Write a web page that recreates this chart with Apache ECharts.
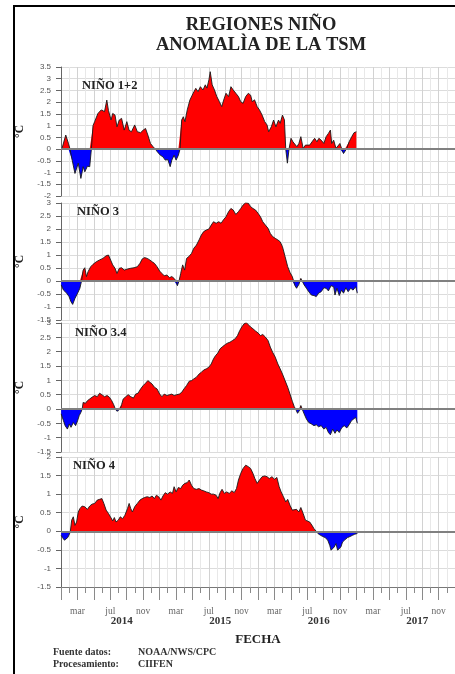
<!DOCTYPE html>
<html><head><meta charset="utf-8">
<script src="https://cdn.jsdelivr.net/npm/echarts@6/dist/echarts.min.js"></script>
<style>html,body{margin:0;padding:0;background:#fff}#c{width:455px;height:674px}</style>
</head><body><div id="c"></div>
<script>
// x = months since 1 Jan 2014, y = SST anomaly (°C)
const nino12 = [[0.1,0],[0.58,0.6],[0.9,0.25],[1.1,0],[1.38,-0.5],[1.7,-1.04],[2.1,-0.6],[2.42,-1.25],[2.7,-0.75],[2.9,-0.97],[3.22,-0.73],[3.5,-0.75],[3.7,0],[3.9,1.0],[4.1,1.17],[4.5,1.52],[4.9,1.67],[5.3,1.6],[5.58,2.09],[5.78,1.65],[6.1,1.24],[6.3,1.52],[6.58,1.45],[6.82,0.95],[7.1,1.24],[7.38,1.31],[7.7,0.81],[8.02,1.17],[8.3,0.8],[8.58,0.74],[8.98,1.03],[9.3,0.74],[9.7,0.7],[10.02,0.81],[10.3,0.88],[10.58,0.6],[10.9,0.24],[11.22,0.1],[11.5,0],[11.7,-0.1],[12.1,-0.26],[12.42,-0.33],[12.7,-0.47],[13.02,-0.45],[13.3,-0.75],[13.5,-0.47],[13.78,-0.26],[14.02,-0.47],[14.3,-0.26],[14.5,0],[14.7,1.24],[14.9,1.38],[15.1,1.17],[15.38,1.67],[15.7,2.09],[16.1,2.38],[16.42,2.59],[16.7,2.45],[16.98,2.66],[17.3,2.52],[17.58,2.74],[17.78,2.6],[18.02,2.95],[18.18,3.3],[18.42,2.74],[18.7,2.52],[18.98,2.24],[19.3,2.02],[19.58,1.81],[19.82,2.09],[20.1,2.38],[20.42,2.24],[20.7,2.66],[20.98,2.52],[21.3,2.38],[21.62,2.24],[21.9,2.02],[22.18,1.95],[22.5,2.24],[22.82,2.38],[23.1,2.3],[23.3,2.02],[23.58,2.1],[23.9,1.81],[24.18,1.67],[24.5,1.45],[24.82,1.17],[25.1,1.03],[25.3,0.74],[25.62,0.95],[25.9,1.24],[26.18,0.95],[26.5,1.24],[26.7,1.1],[26.98,1.45],[27.22,1.24],[27.38,0],[27.58,-0.6],[27.78,0],[28.02,0.46],[28.26,0.31],[28.5,0.38],[28.74,0.1],[28.98,0.24],[29.22,0.53],[29.5,0.03],[29.78,0.17],[30.02,0.24],[30.3,0.17],[30.58,0.31],[30.9,0.46],[31.18,0.31],[31.42,0.46],[31.7,0.38],[32.02,0.24],[32.3,0.53],[32.58,0.67],[32.82,0.81],[32.98,0.24],[33.22,0.38],[33.5,0.03],[33.7,-0.04],[33.98,0.24],[34.18,0.03],[34.42,-0.19],[34.58,-0.26],[34.82,0.03],[35.1,0.31],[35.42,0.53],[35.7,0.7],[35.98,0.74]];
const nino3 = [[0.02,-0.15],[0.3,-0.35],[0.7,-0.47],[0.98,-0.6],[1.22,-0.8],[1.42,-0.9],[1.7,-0.67],[2.02,-0.47],[2.3,-0.28],[2.5,0],[2.7,0.42],[2.9,0.51],[3.1,0.17],[3.3,0.36],[3.62,0.55],[3.9,0.64],[4.3,0.74],[4.7,0.81],[5.1,0.87],[5.5,0.97],[5.78,1.0],[6.02,0.94],[6.3,0.62],[6.58,0.49],[6.82,0.29],[7.1,0.49],[7.38,0.51],[7.7,0.42],[8.1,0.46],[8.5,0.49],[8.9,0.51],[9.3,0.55],[9.62,0.68],[9.9,0.85],[10.18,0.9],[10.5,0.87],[10.82,0.81],[11.1,0.74],[11.38,0.68],[11.7,0.55],[12.02,0.38],[12.3,0.29],[12.58,0.2],[12.9,0.23],[13.22,0.13],[13.5,0.17],[13.78,0.1],[14.02,0],[14.18,-0.18],[14.38,0],[14.58,0.29],[14.82,0.62],[15.06,0.42],[15.3,0.87],[15.58,0.94],[15.9,1.06],[16.18,1.26],[16.5,1.38],[16.82,1.58],[17.1,1.77],[17.38,1.9],[17.7,1.96],[18.02,2.0],[18.3,2.15],[18.58,2.28],[18.9,2.22],[19.22,2.28],[19.5,2.22],[19.78,2.35],[20.1,2.47],[20.42,2.67],[20.7,2.79],[20.98,2.73],[21.3,2.56],[21.62,2.67],[21.9,2.79],[22.18,2.92],[22.5,3.01],[22.82,2.99],[23.1,2.86],[23.38,2.79],[23.7,2.73],[24.02,2.6],[24.3,2.47],[24.58,2.28],[24.9,2.15],[25.22,2.03],[25.5,1.83],[25.78,1.71],[26.1,1.64],[26.42,1.58],[26.7,1.51],[26.98,1.32],[27.3,0.94],[27.62,0.55],[27.9,0.33],[28.18,0.17],[28.34,0],[28.5,-0.18],[28.7,-0.28],[28.98,-0.13],[29.22,0.1],[29.38,0],[29.62,-0.15],[29.9,-0.28],[30.18,-0.41],[30.5,-0.54],[30.82,-0.56],[31.1,-0.6],[31.38,-0.47],[31.7,-0.41],[32.02,-0.26],[32.3,-0.28],[32.58,-0.38],[32.9,-0.18],[33.22,-0.22],[33.38,-0.54],[33.62,-0.28],[33.9,-0.56],[34.18,-0.35],[34.42,-0.47],[34.7,-0.26],[34.98,-0.41],[35.3,-0.28],[35.58,-0.35],[35.9,-0.22],[36.1,-0.47]];
const nino34 = [[0.02,-0.17],[0.3,-0.41],[0.5,-0.58],[0.78,-0.7],[1.02,-0.52],[1.22,-0.64],[1.5,-0.47],[1.78,-0.58],[2.02,-0.41],[2.22,-0.23],[2.42,-0.12],[2.58,0],[2.7,0.23],[2.98,0.2],[3.22,0.29],[3.5,0.35],[3.78,0.41],[4.1,0.47],[4.42,0.43],[4.7,0.55],[4.98,0.5],[5.3,0.43],[5.62,0.47],[5.9,0.41],[6.18,0.29],[6.42,0.15],[6.62,0],[6.82,-0.08],[7.02,-0.04],[7.22,0],[7.38,0.15],[7.58,0.35],[7.9,0.43],[8.18,0.5],[8.5,0.43],[8.82,0.38],[9.1,0.52],[9.38,0.55],[9.7,0.7],[10.02,0.82],[10.3,0.9],[10.58,0.99],[10.82,0.93],[11.1,0.87],[11.38,0.76],[11.7,0.7],[12.02,0.52],[12.3,0.43],[12.58,0.52],[12.9,0.47],[13.22,0.5],[13.5,0.52],[13.78,0.47],[14.1,0.5],[14.42,0.52],[14.7,0.58],[14.98,0.7],[15.3,0.82],[15.62,0.97],[15.9,0.99],[16.18,1.05],[16.5,1.11],[16.82,1.22],[17.1,1.28],[17.38,1.36],[17.7,1.4],[18.02,1.46],[18.3,1.57],[18.58,1.75],[18.82,1.86],[19.1,1.95],[19.38,2.1],[19.7,2.18],[20.02,2.25],[20.3,2.3],[20.58,2.33],[20.9,2.39],[21.22,2.45],[21.5,2.56],[21.78,2.74],[22.02,2.86],[22.3,2.97],[22.58,3.01],[22.82,2.95],[23.1,2.86],[23.38,2.8],[23.7,2.72],[24.02,2.65],[24.3,2.56],[24.58,2.6],[24.9,2.51],[25.22,2.39],[25.5,2.16],[25.78,1.98],[26.1,1.81],[26.42,1.57],[26.7,1.4],[26.98,1.22],[27.3,0.99],[27.62,0.76],[27.9,0.52],[28.18,0.27],[28.42,0.08],[28.58,0],[28.82,-0.15],[29.02,-0.06],[29.22,0.12],[29.38,0],[29.62,-0.17],[29.9,-0.35],[30.18,-0.47],[30.5,-0.52],[30.82,-0.58],[31.1,-0.55],[31.38,-0.62],[31.7,-0.58],[32.02,-0.7],[32.3,-0.64],[32.58,-0.82],[32.82,-0.9],[33.1,-0.7],[33.38,-0.85],[33.62,-0.73],[33.9,-0.82],[34.18,-0.66],[34.5,-0.58],[34.82,-0.66],[35.1,-0.55],[35.38,-0.41],[35.62,-0.47],[35.9,-0.29],[36.1,-0.5]];
const nino4 = [[0.02,-0.11],[0.18,-0.17],[0.42,-0.24],[0.58,-0.29],[0.82,-0.17],[1.02,-0.08],[1.14,0],[1.3,0.3],[1.5,0.39],[1.7,0.16],[1.9,0.25],[2.1,0.52],[2.3,0.61],[2.58,0.68],[2.9,0.66],[3.22,0.59],[3.5,0.68],[3.78,0.73],[4.1,0.75],[4.42,0.84],[4.7,0.86],[4.98,0.88],[5.22,0.75],[5.5,0.57],[5.78,0.48],[6.02,0.39],[6.3,0.28],[6.5,0.37],[6.7,0.25],[6.98,0.3],[7.22,0.39],[7.5,0.34],[7.78,0.43],[8.1,0.61],[8.3,0.75],[8.5,0.61],[8.7,0.52],[8.98,0.66],[9.3,0.75],[9.62,0.84],[9.9,0.88],[10.18,0.91],[10.5,0.93],[10.82,0.91],[11.1,0.95],[11.38,0.88],[11.62,0.97],[11.9,0.93],[12.18,0.84],[12.42,0.95],[12.7,1.04],[12.98,1.0],[13.3,1.06],[13.58,1.02],[13.78,1.2],[14.02,1.06],[14.3,1.18],[14.58,1.15],[14.82,1.24],[15.1,1.29],[15.38,1.31],[15.62,1.38],[15.9,1.24],[16.18,1.15],[16.5,1.13],[16.82,1.15],[17.1,1.11],[17.38,1.09],[17.7,1.06],[18.02,1.04],[18.3,1.0],[18.58,1.0],[18.9,0.97],[19.14,0.88],[19.38,1.04],[19.62,1.13],[19.9,1.02],[20.18,1.06],[20.5,1.02],[20.82,1.09],[21.1,1.04],[21.38,1.15],[21.62,1.38],[21.9,1.56],[22.18,1.69],[22.5,1.78],[22.82,1.74],[23.1,1.69],[23.38,1.56],[23.62,1.42],[23.9,1.29],[24.18,1.38],[24.5,1.47],[24.82,1.49],[25.1,1.47],[25.38,1.42],[25.7,1.47],[26.02,1.4],[26.3,1.45],[26.58,1.2],[26.82,1.06],[27.1,0.93],[27.38,0.79],[27.62,0.86],[27.9,0.7],[28.18,0.57],[28.42,0.52],[28.7,0.59],[28.98,0.52],[29.22,0.64],[29.5,0.48],[29.78,0.3],[30.02,0.28],[30.3,0.25],[30.58,0.16],[30.82,0.07],[31.1,0],[31.3,-0.06],[31.62,-0.11],[31.9,-0.14],[32.18,-0.17],[32.5,-0.24],[32.74,-0.38],[32.9,-0.51],[33.1,-0.56],[33.3,-0.42],[33.5,-0.33],[33.7,-0.51],[33.9,-0.56],[34.1,-0.42],[34.3,-0.29],[34.58,-0.23],[34.9,-0.17],[35.22,-0.14],[35.5,-0.11],[35.78,-0.08],[36.1,-0.06]];

const panelNames = ['NIÑO 1+2', 'NIÑO 3', 'NIÑO 3.4', 'NIÑO 4'];
const yMins = [-2, -1.5, -1.5, -1.5];
const yMaxs = [3.5, 3, 3, 2];
const labelMonths = [2, 6, 10, 14, 18, 22, 26, 30, 34, 38, 42, 46];
const labelNames = ['mar', 'jul', 'nov', 'mar', 'jul', 'nov', 'mar', 'jul', 'nov', 'mar', 'jul', 'nov'];
const yearMonths = [7.4, 19.4, 31.4, 43.4];
const yearNames = ['2014', '2015', '2016', '2017'];

const seriesData = [nino12, nino3, nino34, nino4];
const gridBoxes = [
  { top: 67, height: 129 },
  { top: 203, height: 117 },
  { top: 323, height: 129 },
  { top: 457, height: 130 }
];
const panelLabelPos = [[82, 86], [77, 212], [75, 333], [73, 466]];
const SERIF = '"Liberation Serif", "DejaVu Serif", serif';

// split a series into its positive / negative part, adding the zero crossings
function signPart(d, sign) {
  const out = [];
  for (let k = 0; k < d.length; k++) {
    const [x, y] = d[k];
    if (k > 0) {
      const [x0, y0] = d[k - 1];
      if ((y0 > 0 && y < 0) || (y0 < 0 && y > 0)) {
        const xc = x0 + (x - x0) * (0 - y0) / (y - y0);
        out.push([xc, 0]);
      }
    }
    out.push([x, sign > 0 ? Math.max(y, 0) : Math.min(y, 0)]);
  }
  return out;
}

const grid = gridBoxes.map(b => ({ left: 61, right: -6, top: b.top, height: b.height }));

const xAxis = gridBoxes.map((b, i) => ({
  type: 'value', gridIndex: i, min: 0, max: 48, interval: 2,
  position: 'bottom',
  axisLine: { show: i === 3, onZero: false, lineStyle: { color: '#777', width: 1 } },
  axisTick: { show: i === 3, length: 13, lineStyle: { color: '#8a8a8a' } },
  minorTick: { show: i === 3, splitNumber: 2, length: 6, lineStyle: { color: '#8a8a8a' } },
  axisLabel: {
    show: i === 3, customValues: labelMonths,
    formatter: v => labelNames[labelMonths.indexOf(v)],
    fontFamily: SERIF, fontSize: 9.5, color: '#666', margin: 19
  },
  splitLine: { show: true, lineStyle: { color: '#d2d2d2', width: 1 } },
  minorSplitLine: { show: true, lineStyle: { color: '#e8e8e8', width: 1 } }
}));
xAxis.push({
  type: 'value', gridIndex: 3, min: 0, max: 48, position: 'bottom',
  axisLine: { show: false }, axisTick: { show: false }, splitLine: { show: false },
  axisLabel: {
    customValues: yearMonths,
    formatter: v => yearNames[yearMonths.indexOf(v)],
    fontFamily: SERIF, fontWeight: 'bold', fontSize: 11, color: '#333', margin: 29
  },
  name: 'FECHA', nameLocation: 'middle', nameGap: 46,
  nameTextStyle: { fontFamily: SERIF, fontWeight: 'bold', fontSize: 13, color: '#222' }
});

const yAxis = gridBoxes.map((b, i) => ({
  type: 'value', gridIndex: i, min: yMins[i], max: yMaxs[i], interval: 0.5,
  name: '°C', nameLocation: 'middle', nameGap: 30,
  nameTextStyle: { fontFamily: SERIF, fontWeight: 'bold', fontSize: 11.5, color: '#222' },
  axisLine: { show: true, onZero: false, lineStyle: { color: '#666', width: 1 } },
  axisTick: { show: true, length: 5, lineStyle: { color: '#666' } },
  axisLabel: { fontFamily: '"Liberation Sans", Arial, sans-serif', fontSize: 8, color: '#555', margin: 10 },
  splitLine: { show: true, lineStyle: { color: '#dcdcdc', width: 1 } }
}));

const series = [];
seriesData.forEach((d, i) => {
  series.push({
    type: 'line', xAxisIndex: i, yAxisIndex: i, data: signPart(d, 1),
    symbol: 'none', animation: false, silent: true, z: 3,
    lineStyle: { width: 0, opacity: 0 },
    areaStyle: { color: '#ff0000', opacity: 1 }
  });
  series.push({
    type: 'line', xAxisIndex: i, yAxisIndex: i, data: signPart(d, -1),
    symbol: 'none', animation: false, silent: true, z: 3,
    lineStyle: { width: 0, opacity: 0 },
    areaStyle: { color: '#0000ff', opacity: 1 }
  });
  series.push({
    type: 'line', xAxisIndex: i, yAxisIndex: i, data: d,
    symbol: 'none', animation: false, silent: true, z: 4,
    lineStyle: { color: '#1a1a1a', width: 0.9 }
  });
  series.push({
    type: 'line', xAxisIndex: i, yAxisIndex: i, data: [],
    symbol: 'none', animation: false, silent: true, z: 2,
    markLine: {
      silent: true, symbol: ['none', 'none'], animation: false,
      label: { show: false },
      lineStyle: { color: '#808080', width: 2, type: 'solid' },
      data: [{ yAxis: 0 }]
    }
  });
});

const graphic = [
  { type: 'rect', z: 100, silent: true, shape: { x: 14, y: 6, width: 470, height: 700 },
    style: { fill: 'none', stroke: '#000', lineWidth: 2 } },
  { type: 'text', x: 261, y: 25, style: { text: 'REGIONES NIÑO', font: 'bold 18.5px ' + SERIF, fill: '#222', textAlign: 'center', textVerticalAlign: 'middle', align: 'center', verticalAlign: 'middle' } },
  { type: 'text', x: 261, y: 45, style: { text: 'ANOMALÌA DE LA TSM', font: 'bold 18.5px ' + SERIF, fill: '#222', textAlign: 'center', textVerticalAlign: 'middle', align: 'center', verticalAlign: 'middle' } },
  { type: 'text', x: 53, y: 652, style: { text: 'Fuente datos:', font: 'bold 10px ' + SERIF, fill: '#333', textVerticalAlign: 'middle', verticalAlign: 'middle' } },
  { type: 'text', x: 138, y: 652, style: { text: 'NOAA/NWS/CPC', font: 'bold 10px ' + SERIF, fill: '#333', textVerticalAlign: 'middle', verticalAlign: 'middle' } },
  { type: 'text', x: 53, y: 664, style: { text: 'Procesamiento:', font: 'bold 10px ' + SERIF, fill: '#333', textVerticalAlign: 'middle', verticalAlign: 'middle' } },
  { type: 'text', x: 138, y: 664, style: { text: 'CIIFEN', font: 'bold 10px ' + SERIF, fill: '#333', textVerticalAlign: 'middle', verticalAlign: 'middle' } }
];
panelNames.forEach((n, i) => {
  graphic.push({ type: 'text', z: 50, x: panelLabelPos[i][0], y: panelLabelPos[i][1],
    style: { text: n, font: 'bold 12.5px ' + SERIF, fill: '#222', textVerticalAlign: 'middle', verticalAlign: 'middle' } });
});

const chart = echarts.init(document.getElementById('c'), null, { renderer: 'canvas' });
chart.setOption({
  animation: false,
  backgroundColor: '#fff',
  grid, xAxis, yAxis, series, graphic
});
</script></body></html>
